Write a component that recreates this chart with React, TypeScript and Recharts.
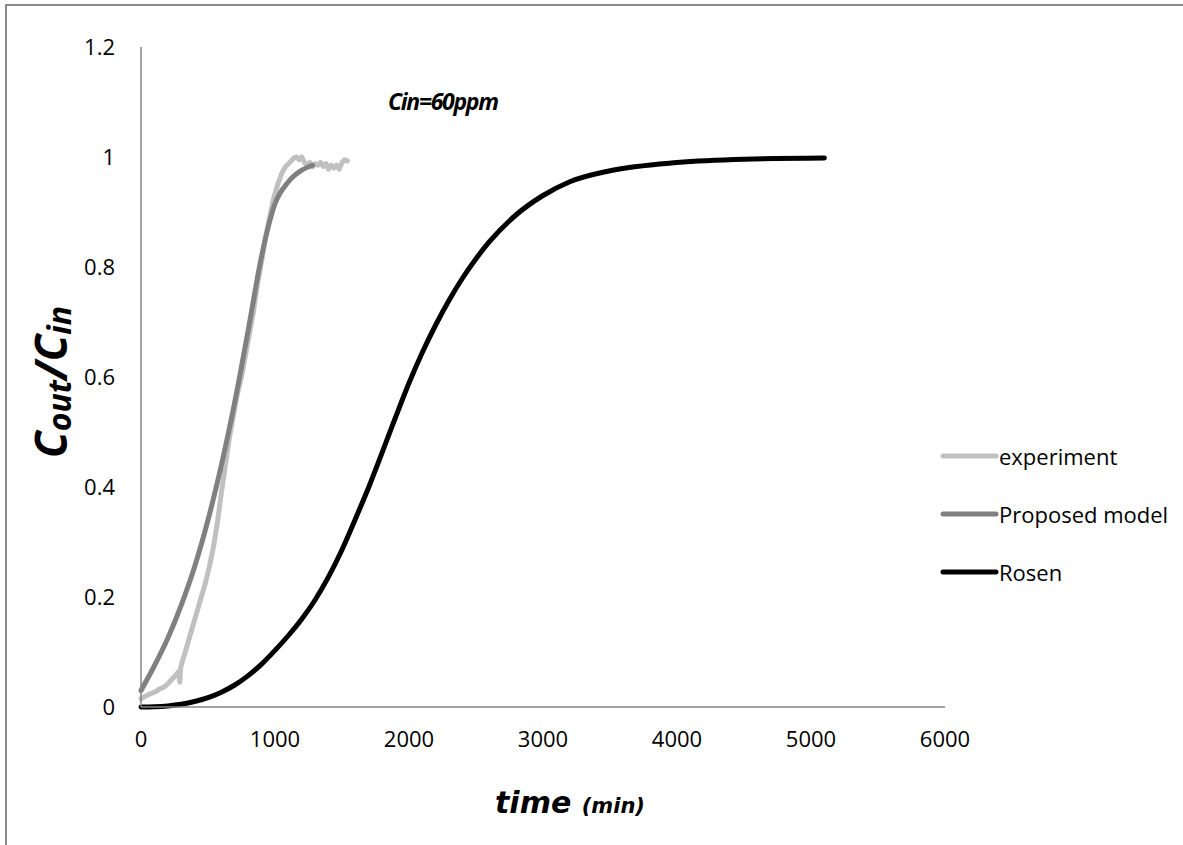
import React from "react";
import { LineChart, Line, XAxis, YAxis } from "recharts";

// axis ticks
const timeTicks = [0, 1000, 2000, 3000, 4000, 5000, 6000];
const ratioTicks = [0, 0.2, 0.4, 0.6, 0.8, 1, 1.2];

// measured breakthrough curve (noisy)
const experimentTime = [
  0, 20, 50, 80, 110, 140, 170, 200, 230, 260, 280, 290, 295, 305, 330, 360,
  390, 420, 450, 480, 510, 540, 570, 600, 630, 660, 690, 720, 750, 780, 810,
  840, 870, 900, 930, 960, 990, 1020, 1050, 1080, 1110, 1140, 1160, 1180, 1200,
  1220, 1240, 1260, 1280, 1300, 1320, 1340, 1360, 1380, 1400, 1420, 1440, 1460,
  1480, 1500, 1520, 1540,
];
const experimentRatio = [
  0.015, 0.018, 0.022, 0.025, 0.028, 0.033, 0.036, 0.042, 0.05, 0.058, 0.064,
  0.045, 0.07, 0.08, 0.1, 0.125, 0.15, 0.175, 0.2, 0.225, 0.255, 0.29, 0.335,
  0.39, 0.44, 0.49, 0.53, 0.57, 0.6, 0.64, 0.68, 0.72, 0.77, 0.81, 0.855, 0.89,
  0.925, 0.95, 0.97, 0.983, 0.99, 0.998, 1.0, 0.995, 1.0, 0.99, 0.985, 0.99,
  0.982, 0.988, 0.985, 0.99, 0.983, 0.988, 0.978, 0.985, 0.98, 0.985, 0.978,
  0.99, 0.995, 0.993,
];

// proposed model
const modelTime = [0, 100, 200, 300, 400, 500, 600, 700, 800, 900, 1000, 1100, 1200, 1280];
const modelRatio = [0.03, 0.075, 0.125, 0.185, 0.255, 0.34, 0.44, 0.555, 0.685, 0.82, 0.915, 0.955, 0.976, 0.985];

// Rosen model
const rosenTime = [
  0, 100, 200, 300, 400, 500, 600, 700, 800, 900, 1000, 1100, 1200, 1300, 1400,
  1500, 1600, 1700, 1800, 1900, 2000, 2100, 2200, 2300, 2400, 2500, 2600, 2800,
  3000, 3200, 3500, 4000, 4500, 5100,
];
const rosenRatio = [
  0, 0.0005, 0.002, 0.005, 0.01, 0.017, 0.027, 0.04, 0.057, 0.078, 0.103, 0.13,
  0.16, 0.195, 0.237, 0.286, 0.342, 0.4, 0.463, 0.527, 0.589, 0.645, 0.695,
  0.74, 0.78, 0.815, 0.846, 0.895, 0.93, 0.955, 0.975, 0.99, 0.996, 0.998,
];

const zip = (ts: number[], vs: number[]) => ts.map((t, i) => ({ t, v: vs[i] }));

const experimentData = zip(experimentTime, experimentRatio);
const modelData = zip(modelTime, modelRatio);
const rosenData = zip(rosenTime, rosenRatio);

const series = [
  { name: "experiment", color: "#c0c0c0", data: experimentData, type: "linear" as const },
  { name: "Proposed model", color: "#808080", data: modelData, type: "monotone" as const },
  { name: "Rosen", color: "#000000", data: rosenData, type: "monotone" as const },
];

const tickFont = { fontFamily: "Open Sans", fontSize: 22, fill: "#000" };

function LegendBox() {
  return (
    <div
      style={{
        position: "absolute",
        left: 939,
        top: 427,
        fontFamily: "Open Sans",
        fontSize: 22,
        color: "#000",
      }}
    >
      {series.map((s) => (
        <div key={s.name} style={{ display: "flex", alignItems: "center", height: 58 }}>
          <svg width={60} height={10}>
            <line x1={4} y1={5} x2={57} y2={5} stroke={s.color} strokeWidth={5} strokeLinecap="round" />
          </svg>
          <span>{s.name}</span>
        </div>
      ))}
    </div>
  );
}

function YTitle() {
  return (
    <text
      x={0}
      y={0}
      transform="translate(67, 382) rotate(-90)"
      textAnchor="middle"
      fontFamily="Open Sans"
      fontWeight="bold"
      fontStyle="italic"
      fill="#000"
    >
      <tspan fontSize={44}>C</tspan>
      <tspan fontSize={32} dy={4}>out</tspan>
      <tspan fontSize={44} dy={-4}>/C</tspan>
      <tspan fontSize={32} dy={4}>in</tspan>
    </text>
  );
}

function XTitle() {
  return (
    <text
      x={570}
      y={813}
      textAnchor="middle"
      fontFamily="DejaVu Sans"
      fontWeight="bold"
      fontStyle="italic"
      fill="#000"
    >
      <tspan fontSize={30}>time </tspan>
      <tspan fontSize={21}>(min)</tspan>
    </text>
  );
}

export default function App() {
  return (
    <div style={{ position: "absolute", left: 0, top: 0, width: 1183, height: 845, background: "#fff" }}>
      <div
        style={{
          position: "absolute",
          left: 5,
          top: 4,
          right: 0,
          bottom: 0,
          borderTop: "2px solid #8a8a8a",
          borderLeft: "2px solid #8a8a8a",
        }}
      />
      <LineChart
        width={1183}
        height={845}
        margin={{ top: 47, right: 238, bottom: 108, left: 0 }}
        style={{ position: "absolute", left: 0, top: 0 }}
      >
        <XAxis
          dataKey="t"
          type="number"
          domain={[0, 6000]}
          ticks={timeTicks}
          allowDuplicatedCategory={false}
          tickLine={false}
          tickSize={0}
          tickMargin={24}
          height={30}
          tick={tickFont}
          axisLine={{ stroke: "#868686", strokeWidth: 1.5 }}
          label={<XTitle />}
        />
        <YAxis
          dataKey="v"
          type="number"
          domain={[0, 1.2]}
          ticks={ratioTicks}
          width={141}
          tickLine={false}
          tickSize={0}
          tickMargin={26}
          tick={tickFont}
          axisLine={{ stroke: "#868686", strokeWidth: 1.5 }}
          label={<YTitle />}
        />
        {series.map((s) => (
          <Line
            key={s.name}
            name={s.name}
            data={s.data}
            dataKey="v"
            type={s.type}
            stroke={s.color}
            strokeWidth={5}
            strokeLinecap="round"
            strokeLinejoin="round"
            dot={false}
            isAnimationActive={false}
          />
        ))}
      </LineChart>
      <div
        style={{
          position: "absolute",
          left: 388,
          top: 90,
          lineHeight: 1,
          fontFamily: "Open Sans",
          fontWeight: "bold",
          fontStyle: "italic",
          fontSize: 23,
          letterSpacing: -1.3,
        }}
      >
        Cin=60ppm
      </div>
      <LegendBox />
    </div>
  );
}
